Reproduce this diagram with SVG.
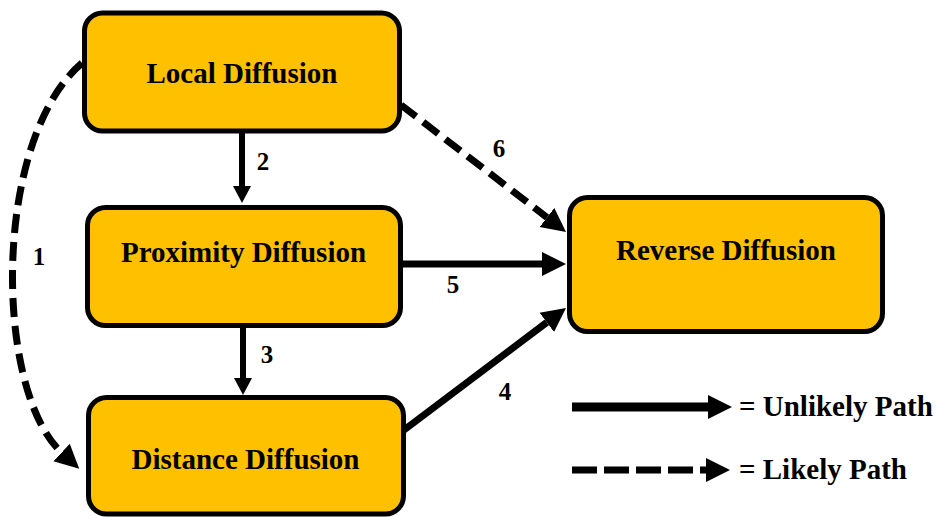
<svg xmlns="http://www.w3.org/2000/svg" width="937" height="517" viewBox="0 0 937 517">
  <style>
    .box { fill: #FFC000; stroke: #000; stroke-width: 5; }
    .title { font-family: "Liberation Serif", "Times New Roman", serif; font-weight: bold; font-size: 29px; fill: #000; text-anchor: middle; }
    .num { font-family: "Liberation Serif", "Times New Roman", serif; font-weight: bold; font-size: 25px; fill: #000; text-anchor: middle; }
    .legend { font-family: "Liberation Serif", "Times New Roman", serif; font-weight: bold; font-size: 29px; fill: #000; }
    .solid { fill: none; stroke: #000; stroke-width: 7; }
    .thin { fill: none; stroke: #000; stroke-width: 6; }
    .dashed { fill: none; stroke: #000; stroke-width: 7; stroke-dasharray: 19 9; }
  </style>
  <defs>
    <marker id="head" markerUnits="userSpaceOnUse" markerWidth="26" markerHeight="26" viewBox="0 -13 26 26" refX="0" refY="0" orient="auto">
      <path d="M0,-12 L24,0 L0,12 z" fill="#000"/>
    </marker>
    <marker id="headSmall" markerUnits="userSpaceOnUse" markerWidth="20" markerHeight="20" viewBox="0 -10 20 20" refX="0" refY="0" orient="auto">
      <path d="M0,-9 L17,0 L0,9 z" fill="#000"/>
    </marker>
  </defs>

  <!-- connectors -->
  <g id="connectors">
    <path class="dashed" d="M82,63 C-8,140 -6,390 61.6,452.5" marker-end="url(#head)"/>
    <path class="thin" d="M242,131 V186" marker-end="url(#headSmall)"/>
    <path class="thin" d="M243,326 V378" marker-end="url(#headSmall)"/>
    <path class="solid" d="M404,430 L546.8,322.4" marker-end="url(#head)"/>
    <path class="solid" d="M401,264 H542" marker-end="url(#head)"/>
    <path class="dashed" d="M401,105 L547,217.4" marker-end="url(#head)"/>
    <text class="num" x="39" y="265">1</text>
    <text class="num" x="263" y="170">2</text>
    <text class="num" x="267" y="363">3</text>
    <text class="num" x="505" y="400">4</text>
    <text class="num" x="453" y="293">5</text>
    <text class="num" x="499" y="157">6</text>
  </g>

  <!-- nodes -->
  <g id="local">
    <rect class="box" x="84.5" y="13" width="315" height="118" rx="18"/>
    <text class="title" x="242" y="83">Local Diffusion</text>
  </g>
  <g id="proximity">
    <rect class="box" x="87.5" y="207.5" width="313" height="118" rx="18"/>
    <text class="title" x="243.5" y="262">Proximity Diffusion</text>
  </g>
  <g id="distance">
    <rect class="box" x="88.5" y="397.5" width="315" height="116.5" rx="18"/>
    <text class="title" x="245.5" y="469">Distance Diffusion</text>
  </g>
  <g id="reverse">
    <rect class="box" x="569.5" y="197.5" width="313" height="134" rx="18"/>
    <text class="title" x="726" y="260">Reverse Diffusion</text>
  </g>

  <!-- legend -->
  <g id="legend">
    <path d="M572,407 H708" fill="none" stroke="#000" stroke-width="9" marker-end="url(#head)"/>
    <text class="legend" x="739" y="416">= Unlikely Path</text>
    <path d="M572,470 H706" fill="none" stroke="#000" stroke-width="7" stroke-dasharray="25 7" marker-end="url(#head)"/>
    <text class="legend" x="739" y="479">= Likely Path</text>
  </g>
</svg>
